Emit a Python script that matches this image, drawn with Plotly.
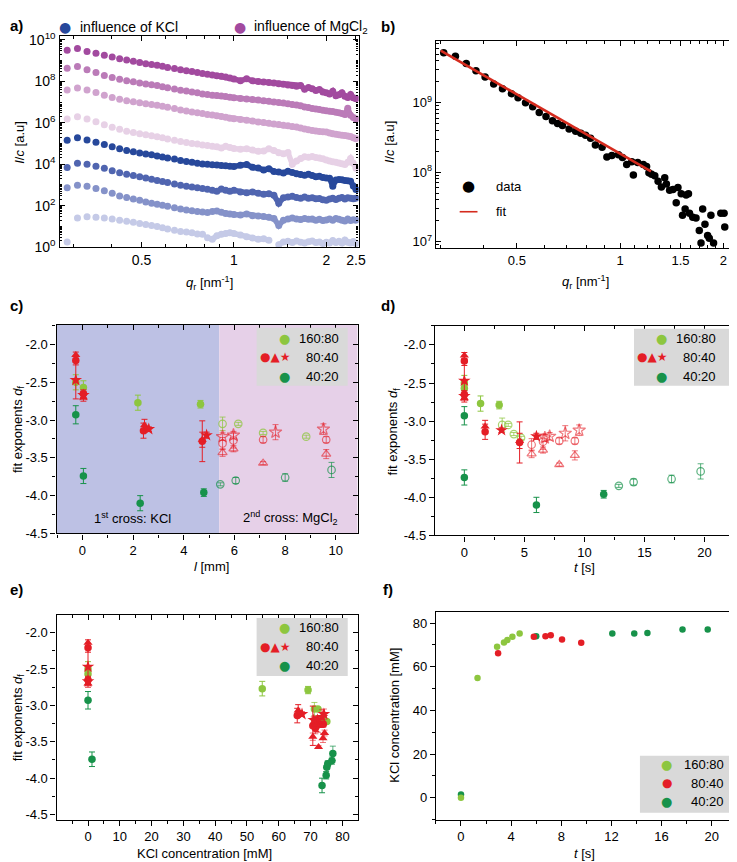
import math
import plotly.graph_objects as go

W, H = 737, 862
FONT = "Liberation Sans, Arial, Helvetica, sans-serif"

# ---------------- panel a : scattering curves (log10 of I/c) ----------------
Q_A = [0.286, 0.309, 0.332, 0.355, 0.378, 0.401, 0.424, 0.447, 0.470, 0.493, 0.516, 0.539, 0.562, 0.585, 0.608,
       0.64, 0.67, 0.70, 0.73, 0.76, 0.79, 0.82, 0.85, 0.88, 0.91, 0.94, 0.97,
       1.00, 1.05, 1.10, 1.15, 1.20, 1.25, 1.30, 1.35, 1.40, 1.45, 1.50, 1.55, 1.60, 1.65, 1.70, 1.75, 1.80,
       1.85, 1.90, 1.95, 2.00, 2.05, 2.10, 2.15, 2.20, 2.25, 2.30, 2.35, 2.40, 2.45, 2.50]

LOG_MG1 = [9.50, 9.58, 9.43, 9.35, 9.26, 9.17, 9.08, 9.02, 8.97, 8.91, 8.85, 8.81, 8.77, 8.72, 8.66,
           8.61, 8.55, 8.51, 8.47, 8.42, 8.37, 8.34, 8.30, 8.27, 8.24, 8.20, 8.16,
           8.11, 8.03, 8.12, 8.02, 7.99, 7.96, 7.94, 7.92, 7.88, 7.86, 7.82, 7.80, 7.76, 7.80, 7.62, 7.70, 7.64,
           7.56, 7.60, 7.48, 7.44, 7.38, 7.52, 7.30, 7.35, 7.45, 7.28, 7.22, 7.36, 7.20, 7.16]
LOG_MG2 = [8.63, 8.71, 8.56, 8.42, 8.28, 8.18, 8.10, 8.03, 7.98, 7.92, 7.87, 7.83, 7.79, 7.74, 7.69,
           7.63, 7.57, 7.53, 7.48, 7.44, 7.39, 7.36, 7.33, 7.31, 7.29, 7.26, 7.23,
           7.21, 7.17, 7.15, 7.12, 7.10, 7.06, 7.03, 7.00, 6.97, 6.95, 6.92, 6.88, 6.85, 6.82, 6.76, 6.74, 6.69,
           6.66, 6.64, 6.60, 6.58, 6.55, 6.54, 6.50, 6.48, 6.44, 6.40, 6.70, 6.36, 6.25, 6.18]
LOG_MG3 = [7.58, 7.67, 7.58, 7.46, 7.33, 7.22, 7.13, 7.06, 7.01, 6.96, 6.92, 6.88, 6.84, 6.79, 6.75,
           6.69, 6.62, 6.56, 6.52, 6.48, 6.44, 6.40, 6.37, 6.34, 6.30, 6.26, 6.22,
           6.19, 6.15, 6.12, 6.08, 6.04, 6.01, 5.97, 5.94, 5.91, 5.88, 5.86, 5.82, 5.79, 5.74, 5.70, 5.66, 5.63,
           5.60, 5.58, 5.56, 5.55, 5.50, 5.47, 5.44, 5.42, 5.40, 5.38, 5.36, 5.34, 5.28, 5.23]
LOG_MG4 = [6.18, 6.29, 6.18, 6.05, 5.90, 5.78, 5.68, 5.59, 5.53, 5.47, 5.42, 5.37, 5.32, 5.27, 5.22,
           5.15, 5.09, 5.05, 5.00, 4.97, 4.93, 4.90, 4.86, 4.84, 4.78, 4.86, 4.80,
           4.76, 4.72, 4.74, 4.68, 4.62, 4.64, 4.74, 4.66, 4.55, 4.50, 4.56, 4.00, 4.15, 4.28, 4.36, 4.33, 4.37,
           4.32, 4.30, 4.26, 4.20, 4.15, 4.12, 4.10, 4.06, 4.02, 3.98, 4.10, 4.28, 4.05, 3.81]
LOG_K1 = [5.16, 5.27, 5.17, 5.06, 4.95, 4.84, 4.74, 4.66, 4.60, 4.54, 4.49, 4.45, 4.40, 4.35, 4.30,
          4.25, 4.18, 4.13, 4.09, 4.05, 4.01, 4.00, 3.97, 3.96, 3.94, 3.92, 3.90,
          3.89, 3.95, 3.98, 3.85, 3.82, 3.72, 3.78, 3.65, 3.62, 3.58, 3.66, 3.60, 3.54, 3.50, 3.47, 3.52, 3.45,
          3.40, 3.42, 3.36, 3.34, 3.32, 2.94, 3.24, 3.26, 3.25, 3.22, 3.20, 3.18, 2.95, 2.78]
LOG_K2 = [3.84, 4.05, 4.00, 3.90, 3.80, 3.69, 3.59, 3.51, 3.45, 3.39, 3.33, 3.28, 3.22, 3.17, 3.12,
          3.05, 2.99, 2.94, 2.90, 2.86, 2.83, 2.79, 2.74, 2.70, 2.80, 2.74, 2.70,
          2.74, 2.66, 2.62, 2.66, 2.60, 2.55, 2.58, 2.50, 2.12, 2.38, 2.42, 2.45, 2.40, 2.36, 2.42, 2.36, 2.38,
          2.33, 2.35, 2.28, 2.26, 2.32, 2.36, 2.30, 2.36, 2.40, 2.32, 2.38, 2.36, 2.34, 2.36]
LOG_K3 = [2.86, 2.99, 2.94, 2.83, 2.72, 2.60, 2.47, 2.39, 2.32, 2.26, 2.18, 2.12, 2.07, 2.02, 1.97,
          1.90, 1.84, 1.79, 1.75, 1.72, 1.69, 1.67, 1.72, 1.74, 1.68, 1.62, 1.60,
          1.58, 1.55, 1.60, 1.52, 1.50, 1.48, 1.44, 1.38, 1.05, 1.30, 1.36, 1.40, 1.36, 1.33, 1.38, 1.35, 1.36,
          1.30, 1.34, 1.28, 1.31, 1.36, 1.30, 1.38, 1.34, 1.30, 1.26, 1.36, 1.28, 1.32, 1.30]
LOG_K4 = [0.25, 1.41, 1.47, 1.44, 1.41, 1.36, 1.30, 1.25, 1.20, 1.14, 1.09, 1.04, 0.99, 0.93, 0.88,
          0.82, 0.76, 0.73, 0.69, 0.64, 0.62, 0.45, 0.38, 0.55, 0.62, 0.66, 0.70,
          0.66, 0.58, 0.50, 0.44, 0.38, 0.40, 0.33, None, 0.12, 0.25, 0.28, 0.22, 0.30, 0.24, 0.20, 0.26, 0.30,
          0.22, 0.25, 0.18, 0.24, 0.20, 0.32, 0.22, 0.28, 0.20, 0.34, 0.24, 0.20, 0.27, 0.18]

# ---------------- panel b : one curve with power-law fit ----------------
Q_B = [0.306, 0.331, 0.356, 0.380, 0.404, 0.428, 0.454, 0.482, 0.504, 0.530, 0.556, 0.581, 0.608, 0.635, 0.657,
       0.679, 0.710, 0.742, 0.768, 0.793, 0.820, 0.847, 0.886, 0.915, 0.946, 0.989, 1.016, 1.045, 1.081, 1.093,
       1.125, 1.168, 1.194, 1.213, 1.235, 1.262, 1.290, 1.319, 1.349, 1.364, 1.394, 1.426, 1.457, 1.474, 1.507,
       1.520, 1.547, 1.557, 1.582, 1.593, 1.628, 1.664, 1.701, 1.721, 1.740, 1.767, 1.799, 1.819, 1.839, 1.872,
       1.966, 2.009, 2.018]
LOG_B = [9.72, 9.67, 9.565, 9.46, 9.37, 9.27, 9.20, 9.13, 9.07, 9.00, 8.94, 8.86, 8.80, 8.74, 8.70,
         8.67, 8.62, 8.59, 8.56, 8.53, 8.49, 8.39, 8.36, 8.22, 8.24, 8.25, 8.21, 8.11, 8.15, 7.96,
         8.14, 8.11, 8.08, 7.99, 7.97, 7.95, 7.87, 7.785, 7.92, 7.83, 7.74, 7.75, 7.56, 7.78, 7.69,
         7.38, 7.47, 7.67, 7.69, 7.41, 7.35, 7.34, 7.16, 6.98, 7.47, 7.25, 7.09, 7.05, 7.38, 6.98,
         7.41, 7.41, 7.21]
FIT_Q = [0.30, 1.23]
FIT_LOG = [9.75, 8.01]

# ---------------- panels c, d, e : fit exponents ----------------
# y value, error, position l [mm], time t [s], KCl concentration [mM]
LG_F_Y = [-2.50, -2.57, -2.77, -2.79]; LG_F_E = [0.10, 0.09, 0.10, 0.05]
LG_F_L = [-0.26, 0.04, 2.19, 4.66];   LG_F_T = [0, 0, 1.35, 2.9];  LG_F_C = [0, 0, 54.8, 69.2]
LG_O_Y = [-3.05, -3.05, -3.17, -3.22]; LG_O_E = [0.09, 0.02, 0.02, 0.02]
LG_O_L = [5.53, 6.15, 7.13, 8.83];    LG_O_T = [3.15, 3.65, 4.12, 4.72]; LG_O_C = [71.2, 72.3, 73.9, 75.1]

RC_F_Y = [-2.21, -2.65, -3.14, -3.28]; RC_F_E = [0.06, 0.05, 0.10, 0.27]
RC_F_L = [-0.26, 0.04, 2.41, 4.73];   RC_F_T = [0, 0, 1.73, 4.6];  RC_F_C = [0, 0, 65.8, 70.7]
RT_F_Y = [-2.14, -2.70, -3.07, -3.26]; RT_F_E = [0.04, 0.05, 0.08, 0.10]
RT_F_L = [-0.26, 0.04, 2.45, 4.73];   RT_F_T = [0, 0, 1.73, 4.6];  RT_F_C = [0, 0, 66.1, 71.8]
RS_F_Y = [-2.47, -2.67, -3.12, -3.20]; RS_F_E = [0.25, 0.05, 0.03, 0.04]
RS_F_L = [-0.26, 0.04, 2.62, 4.90];   RS_F_T = [0, 0, 3.1, 6.0];   RS_F_C = [0, 0, 67.3, 71.0]
RC_O_Y = [-3.31, -3.27, -3.26, -3.26]; RC_O_E = [0.08, 0.10, 0.04, 0.04]
RC_O_L = [5.53, 5.96, 7.13, 9.62];    RC_O_T = [5.6, 6.55, 7.9, 9.2]; RC_O_C = [71.5, 72.3, 73.3, 74.0]
RT_O_Y = [-3.43, -3.38, -3.57, -3.45]; RT_O_E = [0.05, 0.04, 0.02, 0.06]
RT_O_L = [5.53, 5.96, 7.13, 9.62];    RT_O_T = [5.6, 6.55, 7.9, 9.2]; RT_O_C = [70.7, 74.4, 72.5, 73.9]
RS_O_Y = [-3.22, -3.20, -3.16, -3.12]; RS_O_E = [0.05, 0.05, 0.10, 0.07]
RS_O_L = [5.53, 5.96, 7.62, 9.51];    RS_O_T = [6.7, 7.1, 8.4, 9.56]; RS_O_C = [71.7, 72.2, 73.6, 74.2]

DG_F_Y = [-2.93, -3.74, -4.10, -3.96]; DG_F_E = [0.12, 0.10, 0.10, 0.05]
DG_F_L = [-0.26, 0.04, 2.28, 4.79];   DG_F_T = [0, 0, 6.0, 11.6];  DG_F_C = [0, 1.25, 73.6, 74.9]
DG_O_Y = [-3.85, -3.80, -3.76, -3.66]; DG_O_E = [0.02, 0.04, 0.05, 0.10]
DG_O_L = [5.44, 6.05, 8.0, 9.83];     DG_O_T = [12.86, 14.09, 17.25, 19.67]; DG_O_C = [75.1, 75.4, 76.7, 77.0]

# ---------------- panel f : KCl concentration vs time ----------------
F_LG_T = [0, 1.32, 2.88, 3.43, 3.70, 4.10, 4.68]
F_LG_C = [0.0, 54.9, 69.2, 71.1, 72.2, 73.7, 75.2]
F_R_T = [2.96, 5.81, 6.74, 7.16, 8.06, 9.59]
F_R_C = [66.2, 73.7, 74.0, 74.4, 72.5, 71.0]
F_DG_T = [0, 6.0, 12.07, 13.82, 14.87, 17.67, 19.68]
F_DG_C = [1.5, 74.0, 75.2, 75.2, 75.5, 77.0, 77.1]

Y_TICKS = [-2.0, -2.5, -3.0, -3.5, -4.0, -4.5]
LEGEND_LABELS = ["160:80", "80:40", "40:20"]

# ---------------- colours ----------------
LG = "#8dc63f"; LG_L = "rgba(141,198,63,0.75)"
RED = "#e41e26"; RED_L = "rgba(228,30,38,0.6)"
DG = "#17924a"; DG_L = "rgba(23,146,74,0.7)"
A_COLS = ["#a24a9f", "#bb7bb8", "#d0a3ce", "#e7d1e6", "#27489b", "#5065b0", "#8592c9", "#c5cae7"]

fig = go.Figure()

# ---------- panel a ----------
a_series = [LOG_MG1, LOG_MG2, LOG_MG3, LOG_MG4, LOG_K1, LOG_K2, LOG_K3, LOG_K4]
k0 = Q_A.index(0.85)
for vals, col in zip(a_series, A_COLS):
    yv = [None if v is None else 10 ** v for v in vals]
    fig.add_trace(go.Scatter(x=Q_A, y=yv, mode="markers", marker=dict(size=7, color=col),
                             xaxis="x", yaxis="y", showlegend=False, hoverinfo="skip"))
    fig.add_trace(go.Scatter(x=Q_A[k0:], y=yv[k0:], mode="lines", line=dict(color=col, width=5.5),
                             connectgaps=False, xaxis="x", yaxis="y", showlegend=False, hoverinfo="skip"))

# ---------- panel b ----------
fig.add_trace(go.Scatter(x=Q_B, y=[10 ** v for v in LOG_B], mode="markers",
                         marker=dict(size=7.5, color="black"), xaxis="x2", yaxis="y2", showlegend=False))
fig.add_trace(go.Scatter(x=FIT_Q, y=[10 ** v for v in FIT_LOG], mode="lines",
                         line=dict(color="#d52b1e", width=2.6), xaxis="x2", yaxis="y2", showlegend=False))

# ---------- panels c, d, e ----------
SETS = [
    (LG_F_Y, LG_F_E, LG_F_L, LG_F_T, LG_F_C, LG, LG, "circle", False),
    (LG_O_Y, LG_O_E, LG_O_L, LG_O_T, LG_O_C, LG, LG_L, "circle", True),
    (DG_F_Y, DG_F_E, DG_F_L, DG_F_T, DG_F_C, DG, DG, "circle", False),
    (DG_O_Y, DG_O_E, DG_O_L, DG_O_T, DG_O_C, DG, DG_L, "circle", True),
    (RC_O_Y, RC_O_E, RC_O_L, RC_O_T, RC_O_C, RED, RED_L, "circle", True),
    (RT_O_Y, RT_O_E, RT_O_L, RT_O_T, RT_O_C, RED, RED_L, "triangle-up", True),
    (RS_O_Y, RS_O_E, RS_O_L, RS_O_T, RS_O_C, RED, RED_L, "star", True),
    (RC_F_Y, RC_F_E, RC_F_L, RC_F_T, RC_F_C, RED, RED, "circle", False),
    (RT_F_Y, RT_F_E, RT_F_L, RT_F_T, RT_F_C, RED, RED, "triangle-up", False),
    (RS_F_Y, RS_F_E, RS_F_L, RS_F_T, RS_F_C, RED, RED, "star", False),
]
SIZES = {"circle": 7.5, "triangle-up": 8, "star": 9.5}

for ys, es, ls, ts, cs, base, light, sym, is_open in SETS:
    for xs, xa, ya, panel in ((ls, "x3", "y3", "c"), (ts, "x4", "y4", "d"), (cs, "x5", "y5", "e")):
        if panel == "e":
            symbol, mcol, ecol = sym, base, light if is_open else base
        else:
            symbol = sym + "-open" if is_open else sym
            mcol = light if is_open else base
            ecol = mcol
        marker = dict(symbol=symbol, size=SIZES[sym], color=mcol)
        if symbol.endswith("-open"):
            marker["line"] = dict(color=mcol, width=1.2)
        fig.add_trace(go.Scatter(
            x=xs, y=ys, mode="markers", marker=marker, xaxis=xa, yaxis=ya, showlegend=False,
            error_y=dict(type="data", array=es, visible=True, color=ecol, thickness=1, width=3)))

# ---------- panel f ----------
for ts, cs, col in ((F_DG_T, F_DG_C, DG), (F_R_T, F_R_C, RED), (F_LG_T, F_LG_C, LG)):
    fig.add_trace(go.Scatter(x=ts, y=cs, mode="markers", marker=dict(size=6.5, color=col),
                             xaxis="x6", yaxis="y6", showlegend=False))

# empty traces so that the tick-only twin axes (top / right, inward ticks) get drawn
for xa, ya in (("x7", "y3"), ("x3", "y7"), ("x8", "y4"), ("x4", "y8"), ("x9", "y5"), ("x5", "y9")):
    fig.add_trace(go.Scatter(x=[], y=[], mode="markers", xaxis=xa, yaxis=ya, showlegend=False,
                             hoverinfo="skip"))


# ---------------- axes ----------------
def dom(x0, x1, y0, y1):
    return [x0 / W, x1 / W], [1 - y1 / H, 1 - y0 / H]

TF = dict(size=13, color="black", family=FONT)
LINE = dict(showline=True, linecolor="black", linewidth=1.3, showgrid=False, zeroline=False)


def lin_axis(domain, rng, anchor, dtick=None, minor=None, tickvals=None, ticktext=None):
    d = dict(domain=domain, range=rng, anchor=anchor, ticks="outside", ticklen=5, tickwidth=1,
             tickcolor="black", mirror=True, tickfont=TF, **LINE)
    if tickvals is not None:
        d.update(tickmode="array", tickvals=tickvals, ticktext=ticktext)
    else:
        d.update(tick0=0, dtick=dtick)
    if minor is not None:
        d["minor"] = dict(tick0=0, dtick=minor, ticks="outside", ticklen=3, tickcolor="black", showgrid=False)
    return d


def twin(overlay, anchor, side, rng, dtick, minor):
    return dict(overlaying=overlay, anchor=anchor, side=side, range=rng, tick0=0, dtick=dtick,
                ticks="inside", ticklen=5, tickcolor="black", showticklabels=False, showline=False,
                showgrid=False, zeroline=False, fixedrange=True,
                minor=dict(tick0=0, dtick=minor, ticks="inside", ticklen=3, tickcolor="black", showgrid=False))


ytext = ["%.1f" % v for v in Y_TICKS]

# panel a
xd, yd = dom(52, 354, 22, 237)
a_major_y = [10 ** k for k in range(0, 11, 2)]
a_minor_y = [m * 10 ** k for k in range(0, 10) for m in range(2, 11)]
fig.update_layout(
    xaxis=dict(domain=xd, type="log", range=[math.log10(0.27), math.log10(2.55)], anchor="y",
               tickmode="array", tickvals=[0.5, 1, 2, 2.5], ticktext=["0.5", "1", "2", "2.5"],
               ticks="inside", ticklen=5, tickcolor="black", mirror="ticks",
               tickfont=dict(size=14, color="black", family=FONT),
               minor=dict(tickmode="array", tickvals=[0.3, 0.4, 0.6, 0.7, 0.8, 0.9, 1.5], ticks="inside",
                          ticklen=3, tickcolor="black"), **LINE),
    yaxis=dict(domain=yd, type="log", range=[0, 10.2], anchor="x",
               tickmode="array", tickvals=a_major_y,
               ticktext=["10<sup>%d</sup>" % round(math.log10(v)) for v in a_major_y],
               ticks="inside", ticklen=5, tickcolor="black", mirror="ticks",
               tickfont=dict(size=14, color="black", family=FONT),
               minor=dict(tickmode="array", tickvals=a_minor_y, ticks="inside", ticklen=2.5, tickcolor="black"),
               **LINE),
)
# panel b
xd, yd = dom(432, 733, 27, 238)
b_minor_x = [0.3, 0.4, 0.6, 0.7, 0.8, 0.9, 1.1, 1.2, 1.3, 1.4, 1.6, 1.7, 1.8, 1.9, 2.1]
b_minor_y = [m * 10 ** k for k in range(6, 10) for m in range(2, 10)]
fig.update_layout(
    xaxis2=dict(domain=xd, type="log", range=[-0.537, 0.332], anchor="y2",
                tickmode="array", tickvals=[0.5, 1, 1.5, 2], ticktext=["0.5", "1", "1.5", "2"],
                ticks="inside", ticklen=5, tickcolor="black", mirror="ticks", tickfont=TF,
                minor=dict(tickmode="array", tickvals=b_minor_x, ticks="inside", ticklen=3, tickcolor="black"),
                **LINE),
    yaxis2=dict(domain=yd, type="log", range=[6.907, 9.894], anchor="x2",
                tickmode="array", tickvals=[1e7, 1e8, 1e9],
                ticktext=["10<sup>7</sup>", "10<sup>8</sup>", "10<sup>9</sup>"],
                ticks="inside", ticklen=5, tickcolor="black", mirror="ticks", tickfont=TF,
                minor=dict(tickmode="array", tickvals=b_minor_y, ticks="inside", ticklen=3, tickcolor="black"),
                **LINE),
)
# panel c
xd, yd = dom(49, 353, 316, 528)
RC_X = [-1.02, 10.86]; RC_Y = [-4.5, -1.74]
fig.update_layout(xaxis3=lin_axis(xd, RC_X, "y3", dtick=2, minor=1),
                  yaxis3=lin_axis(yd, RC_Y, "x3", minor=0.25, tickvals=Y_TICKS, ticktext=ytext),
                  xaxis7=twin("x3", "y3", "top", RC_X, 2, 1),
                  yaxis7=twin("y3", "x3", "right", RC_Y, 0.5, 0.25))
# panel d
xd, yd = dom(431, 733, 317, 530)
RD_X = [-2.45, 22.45]; RD_Y = [-4.5, -1.75]
fig.update_layout(xaxis4=lin_axis(xd, RD_X, "y4", dtick=5, minor=2.5),
                  yaxis4=lin_axis(yd, RD_Y, "x4", minor=0.25, tickvals=Y_TICKS, ticktext=ytext),
                  xaxis8=twin("x4", "y4", "top", RD_X, 5, 2.5),
                  yaxis8=twin("y4", "x4", "right", RD_Y, 0.5, 0.25))
# panel e
xd, yd = dom(49, 353, 611, 819)
RE_X = [-9.9, 84.8]; RE_Y = [-4.57, -1.76]
fig.update_layout(xaxis5=lin_axis(xd, RE_X, "y5", dtick=10, minor=5),
                  yaxis5=lin_axis(yd, RE_Y, "x5", minor=0.25, tickvals=Y_TICKS, ticktext=ytext),
                  xaxis9=twin("x5", "y5", "top", RE_X, 10, 5),
                  yaxis9=twin("y5", "x5", "right", RE_Y, 0.5, 0.25))
# panel f
xd, yd = dom(432, 732, 608, 819)
fig.update_layout(xaxis6=lin_axis(xd, [-2.0, 21.7], "y6", dtick=4, minor=2),
                  yaxis6=lin_axis(yd, [-10, 85], "x6", dtick=20, minor=10))

# ---------------- shapes ----------------
shapes = []
shapes.append(dict(type="rect", xref="x3", yref="y3 domain", x0=RC_X[0], x1=5.4, y0=0, y1=1,
                   fillcolor="#bdc1e4", line=dict(width=0), layer="below"))
shapes.append(dict(type="rect", xref="x3", yref="y3 domain", x0=5.4, x1=RC_X[1], y0=0, y1=1,
                   fillcolor="#e6d0e8", line=dict(width=0), layer="below"))


def box_px(x0, y0, x1, y1, color="#d9d9d9"):
    shapes.append(dict(type="rect", xref="paper", yref="paper", x0=x0 / W, x1=x1 / W,
                       y0=1 - y1 / H, y1=1 - y0 / H, fillcolor=color, line=dict(width=0), layer="above"))


box_px(251, 319, 343, 378)
box_px(632, 320, 731, 378)
box_px(251, 614, 343, 673)
box_px(638, 754, 730, 812)
# fit legend line (panel b)
shapes.append(dict(type="line", xref="paper", yref="paper", x0=456 / W, x1=474 / W,
                   y0=1 - 201 / H, y1=1 - 201 / H, line=dict(color="#d52b1e", width=1.6)))

# ---------------- annotations ----------------
ann = []


def txt(x, y, s, size=13, color="black", xanchor="center", angle=0, family=FONT):
    ann.append(dict(x=x / W, y=1 - y / H, xref="paper", yref="paper", text=s, showarrow=False,
                    font=dict(size=size, color=color, family=family), xanchor=xanchor, yanchor="middle",
                    textangle=angle))


SYM = "DejaVu Sans"
# panel labels
for lab, x, y in (("a)", 9, 12), ("b)", 384, 13), ("c)", 9, 296), ("d)", 384, 296), ("e)", 9, 585), ("f)", 384, 585)):
    txt(x, y, "<b>%s</b>" % lab, size=15)

# panel a legend + titles
txt(58, 13, "●", size=14, color=A_COLS[4], family=SYM)
txt(71, 13, "influence of KCl", size=14, xanchor="left")
txt(234, 13, "●", size=14, color=A_COLS[0], family=SYM)
txt(246, 13, "influence of MgCl<sub>2</sub>", size=14, xanchor="left")
txt(12, 130, "<i>I</i>/<i>c</i> [a.u]", angle=-90)
txt(203, 273, "<i>q</i><sub>r</sub> [nm<sup>-1</sup>]")

# panel b legend + titles
txt(465, 175, "●", size=15, color="black", family=SYM)
txt(491, 175, "data", xanchor="left")
txt(491, 201, "fit", xanchor="left")
txt(386, 130, "<i>I</i>/<i>c</i> [a.u]", angle=-90)
txt(583, 272, "<i>q</i><sub>r</sub> [nm<sup>-1</sup>]")

# panels c-f titles
YT = "fit exponents <i>d</i><sub>f</sub>"
txt(10, 422, YT, angle=-90)
txt(205, 562, "<i>l</i> [mm]")
txt(389, 424, YT, angle=-90)
txt(582, 563, "<i>t</i> [s]")
txt(10, 715, YT, angle=-90)
txt(198, 853, "KCl concentration [mM]")
txt(390, 713, "KCl concentration [mM]", angle=-90)
txt(582, 853, "<i>t</i> [s]")

txt(126, 512, "1<sup>st</sup> cross: KCl")
txt(285, 512, "2<sup>nd</sup> cross: MgCl<sub>2</sub>")


def legend(xdot, xred, xtext, rows, with_shapes=True):
    txt(xdot, rows[0], "●", size=13, color=LG, family=SYM)
    txt(xred, rows[1], "●▲★" if with_shapes else "●", size=12, color=RED, family=SYM)
    txt(xdot, rows[2], "●", size=13, color=DG, family=SYM)
    for r, lab in zip(rows, LEGEND_LABELS):
        txt(xtext, r, lab, xanchor="right")


legend(279, 270, 336, [330, 349, 368])
legend(660, 650, 717, [330, 349, 368])
legend(279, 270, 336, [624, 643, 662])
legend(665, 665, 725, [763, 782, 800], with_shapes=False)

fig.update_layout(width=W, height=H, margin=dict(l=0, r=0, t=0, b=0),
                  paper_bgcolor="white", plot_bgcolor="rgba(0,0,0,0)",
                  shapes=shapes, annotations=ann, showlegend=False,
                  font=dict(family=FONT, color="black"))

fig.write_html("out.html")
